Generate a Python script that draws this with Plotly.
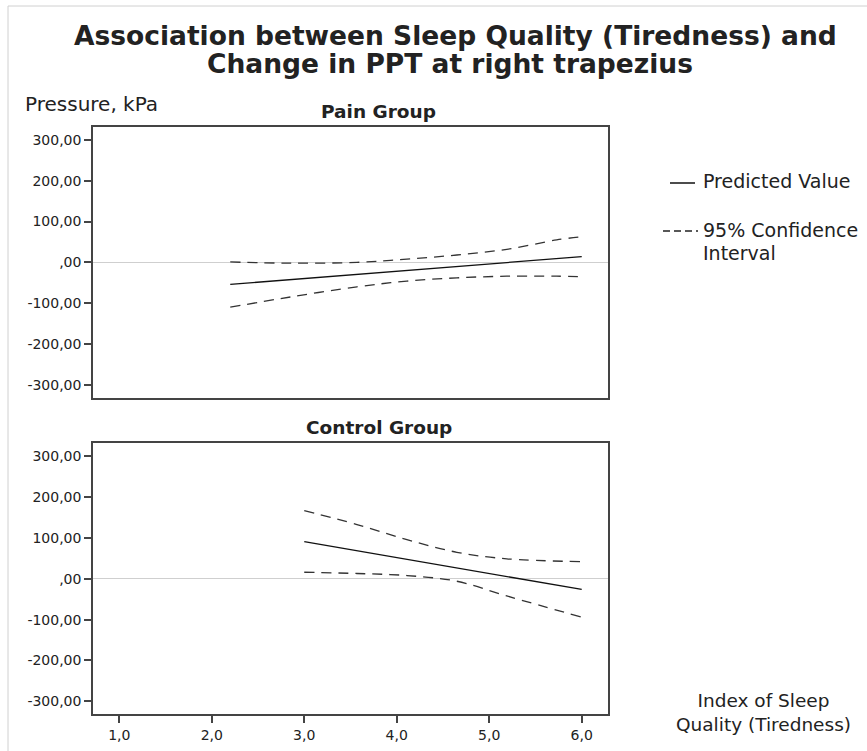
import plotly.graph_objects as go

W, H = 867, 751

# ---- data ----
pain_pred_x = [2.2, 6.0]
pain_pred_y = [-54, 14]
pain_ci_x = [2.2, 2.85, 3.57, 4.11, 4.65, 5.19, 5.73, 6.0]
pain_upper = [1, -2, 0, 8, 18, 32, 55, 63]
pain_lower = [-110, -85, -60, -46, -38, -34, -34, -35]

ctrl_pred_x = [3.0, 6.0]
ctrl_pred_y = [91, -26]
ctrl_ci_x = [3.0, 3.57, 4.11, 4.65, 5.19, 6.0]
ctrl_upper = [167, 133, 96, 65, 49, 42]
ctrl_lower = [16, 13, 8, -6, -42, -94]

y_tickvals = [-300, -200, -100, 0, 100, 200, 300]
y_ticktext = ["-300,00", "-200,00", "-100,00", ",00", "100,00", "200,00", "300,00"]
x_tickvals = [1, 2, 3, 4, 5, 6]
x_ticktext = ["1,0", "2,0", "3,0", "4,0", "5,0", "6,0"]

title_lines = ["Association between Sleep Quality (Tiredness) and",
               "Change in PPT at right trapezius"]
panel_titles = ["Pain Group", "Control Group"]
y_title = "Pressure, kPa"
x_title_lines = ["Index of Sleep", "Quality (Tiredness)"]
legend_labels = ["Predicted Value", "95% Confidence", "Interval"]

FONT = "DejaVu Sans"
TXT = "#222222"
AX = "#444444"


def px(x):
    return x / W


def py(y):
    return 1 - y / H


fig = go.Figure()

dash = "10px,7px"
# Pain group (top)
fig.add_trace(go.Scatter(x=pain_pred_x, y=pain_pred_y, mode="lines",
                         line=dict(color="#111111", width=1.3), xaxis="x", yaxis="y"))
fig.add_trace(go.Scatter(x=pain_ci_x, y=pain_upper, mode="lines", line_shape="spline",
                         line=dict(color="#333333", width=1.3, dash=dash), xaxis="x", yaxis="y"))
fig.add_trace(go.Scatter(x=pain_ci_x, y=pain_lower, mode="lines", line_shape="spline",
                         line=dict(color="#333333", width=1.3, dash=dash), xaxis="x", yaxis="y"))
# Control group (bottom)
fig.add_trace(go.Scatter(x=ctrl_pred_x, y=ctrl_pred_y, mode="lines",
                         line=dict(color="#111111", width=1.3), xaxis="x2", yaxis="y2"))
fig.add_trace(go.Scatter(x=ctrl_ci_x, y=ctrl_upper, mode="lines", line_shape="spline",
                         line=dict(color="#333333", width=1.3, dash=dash), xaxis="x2", yaxis="y2"))
fig.add_trace(go.Scatter(x=ctrl_ci_x, y=ctrl_lower, mode="lines", line_shape="spline",
                         line=dict(color="#333333", width=1.3, dash=dash), xaxis="x2", yaxis="y2"))

xdom = [px(93), px(607.7)]
xrange_ = [0.716, 6.281]
yrange_ = [-332, 332]

common_x = dict(range=xrange_, showgrid=False, zeroline=False, showline=True, mirror=True,
                linecolor=AX, linewidth=1.5, automargin=False,
                tickfont=dict(family=FONT, size=14, color=TXT))
common_y = dict(range=yrange_, showgrid=False, zeroline=True, zerolinecolor="#cfcfcf",
                zerolinewidth=1, showline=True, mirror=True, linecolor=AX, linewidth=1.5,
                ticks="outside", ticklen=7, tickwidth=1.5, tickcolor=AX, automargin=False,
                tickvals=y_tickvals, ticktext=y_ticktext,
                tickfont=dict(family=FONT, size=14, color=TXT))

fig.update_layout(
    width=W, height=H, margin=dict(l=0, r=0, t=0, b=0),
    paper_bgcolor="white", plot_bgcolor="white", showlegend=False,
    template="none",
    xaxis=dict(domain=xdom, anchor="y", showticklabels=False, ticks="", **common_x),
    yaxis=dict(domain=[py(397.7), py(127)], anchor="x", **common_y),
    xaxis2=dict(domain=xdom, anchor="y2", ticks="outside", ticklen=7, tickwidth=1.5,
                tickcolor=AX, tickvals=x_tickvals, ticktext=x_ticktext, **common_x),
    yaxis2=dict(domain=[py(714.3), py(443.3)], anchor="x2", **common_y),
)

ann = []


def add_text(text, x, y, size, bold=False, xanchor="center"):
    ann.append(dict(text=f"<b>{text}</b>" if bold else text, x=px(x), y=py(y),
                    xref="paper", yref="paper", xanchor=xanchor, yanchor="middle",
                    showarrow=False, font=dict(family=FONT, size=size, color=TXT)))


add_text(title_lines[0], 456, 36, 26.5, bold=True)
add_text(title_lines[1], 450, 63, 26.5, bold=True)
add_text(y_title, 23, 104, 20, xanchor="left")
add_text(panel_titles[0], 378, 111, 18.5, bold=True)
add_text(panel_titles[1], 379, 428, 18.5, bold=True)
add_text(legend_labels[0], 701, 180.5, 19, xanchor="left")
add_text(legend_labels[1], 701, 230.5, 19, xanchor="left")
add_text(legend_labels[2], 701, 253, 19, xanchor="left")
add_text("<br>".join(x_title_lines), 763, 712, 18.5)
fig.update_layout(annotations=ann)

shapes = [
    # outer frame
    dict(type="line", xref="paper", yref="paper", x0=px(8), x1=1.01, y0=py(6), y1=py(6),
         line=dict(color="#d0d0d0", width=1)),
    dict(type="line", xref="paper", yref="paper", x0=px(8), x1=px(8), y0=py(6), y1=-0.01,
         line=dict(color="#d0d0d0", width=1)),
    # legend keys
    dict(type="line", xref="paper", yref="paper", x0=px(670), x1=px(695), y0=py(183), y1=py(183),
         line=dict(color="#111111", width=1.5)),
    dict(type="line", xref="paper", yref="paper", x0=px(663), x1=px(698), y0=py(231), y1=py(231),
         line=dict(color="#222222", width=1.3, dash="7px,4px")),
]
fig.update_layout(shapes=shapes)

fig.write_html("out.html")
